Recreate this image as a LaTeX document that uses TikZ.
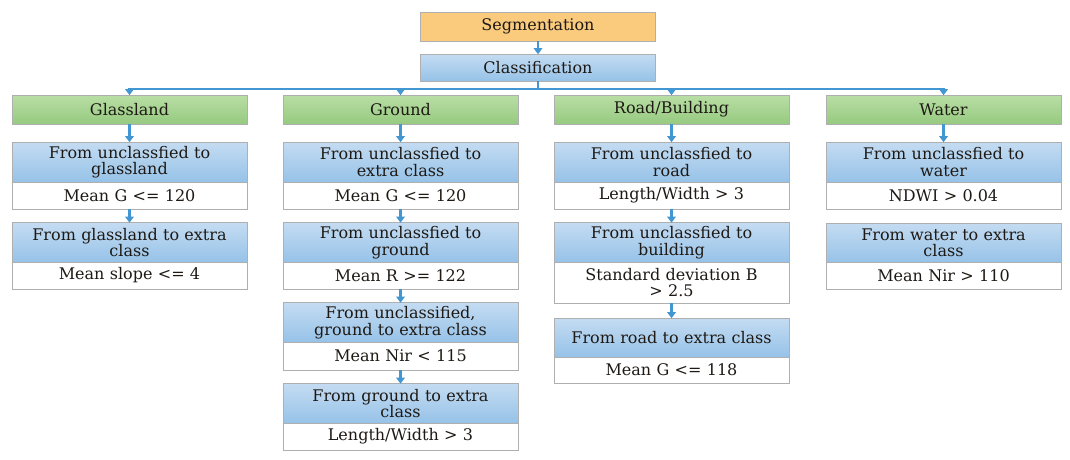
\documentclass[tikz,border=0pt]{standalone}
\usepackage{fontspec}
\setmainfont{DejaVu Serif}
\usetikzlibrary{arrows.meta}
\definecolor{arr}{RGB}{66,150,210}
\definecolor{txt}{RGB}{30,25,20}
\definecolor{bord}{RGB}{175,175,175}
\definecolor{orangec}{RGB}{250,202,125}
\definecolor{green1}{RGB}{185,222,165}
\definecolor{green2}{RGB}{150,202,128}
\definecolor{blue1}{RGB}{196,220,242}
\definecolor{blue2}{RGB}{150,194,232}
\begin{document}
\begin{tikzpicture}[x=1pt,y=-1pt,
  every node/.style={font=\fontsize{16}{16.5}\selectfont, text=txt},
  base/.style={draw=bord, line width=0.6pt, inner sep=0pt, minimum width=235pt, text width=232pt, align=center},
  orangebox/.style={base, fill=orangec, minimum height=29pt},
  greenbox/.style={base, top color=green1, bottom color=green2, minimum height=29pt},
  bluebox/.style={base, top color=blue1, bottom color=blue2, minimum height=40pt},
  whitebox/.style={base, fill=white, minimum height=27pt},
  link/.style={draw=arr, line width=2.4pt},
  arrow/.style={link, -{Triangle[width=8.5pt,length=6pt]}, shorten >=-0.5pt}
]
\useasboundingbox (0,0) rectangle (1070,459);

\node[orangebox] (seg) at (538,26.5) {Segmentation};
\node[bluebox, minimum height=27pt] (cls) at (538,67.5) {Classification};

% Glassland
\node[greenbox] (g0) at (129.5,109.5) {Glassland};
\node[bluebox] (g1) at (129.5,162) {From unclassfied to\\glassland};
\node[whitebox] (g1w) at (129.5,195.5) {Mean G <= 120};
\node[bluebox] (g2) at (129.5,242.5) {From glassland to extra\\class};
\node[whitebox] (g2w) at (129.5,275.5) {Mean slope <= 4};

% Ground
\node[greenbox] (r0) at (400.5,109.5) {Ground};
\node[bluebox] (r1) at (400.5,162) {From unclassfied to\\extra class};
\node[whitebox] (r1w) at (400.5,195.5) {Mean G <= 120};
\node[bluebox] (r2) at (400.5,242.5) {From unclassfied to\\ground};
\node[whitebox] (r2w) at (400.5,275.5) {Mean R >= 122};
\node[bluebox] (r3) at (400.5,322.5) {From unclassified,\\ground to extra class};
\node[whitebox, minimum height=28pt] (r3w) at (400.5,356) {Mean Nir < 115};
\node[bluebox] (r4) at (400.5,403.5) {From ground to extra\\class};
\node[whitebox] (r4w) at (400.5,436.5) {Length/Width > 3};

% Road/Building
\node[greenbox] (b0) at (671.5,109.5) {Road/Building};
\node[bluebox] (b1) at (671.5,162) {From unclassfied to\\road};
\node[whitebox] (b1w) at (671.5,195.5) {Length/Width > 3};
\node[bluebox] (b2) at (671.5,242.5) {From unclassfied to\\building};
\node[whitebox, minimum height=41pt] (b2w) at (671.5,282.5) {Standard deviation B\\> 2.5};
\node[bluebox, minimum height=39pt] (b3) at (671.5,337.5) {From road to extra class};
\node[whitebox, minimum height=26pt] (b3w) at (671.5,370) {Mean G <= 118};

% Water
\node[greenbox] (w0) at (943.5,109.5) {Water};
\node[bluebox] (w1) at (943.5,162) {From unclassfied to\\water};
\node[whitebox] (w1w) at (943.5,195.5) {NDWI > 0.04};
\node[bluebox] (w2) at (943.5,243) {From water to extra\\class};
\node[whitebox] (w2w) at (943.5,276) {Mean Nir > 110};

% connectors
\draw[arrow] (seg) -- (cls);
\coordinate (bus) at (538,89);
\draw[link] (cls.south) -- (bus);
\draw[link, line cap=rect] (g0.north |- bus) -- (w0.north |- bus);
\foreach \n in {g0,r0,b0,w0} \draw[arrow] (\n.north |- bus) -- (\n.north);

\draw[arrow] (g0) -- (g1);
\draw[arrow] (g1w) -- (g2);
\draw[arrow] (r0) -- (r1);
\draw[arrow] (r1w) -- (r2);
\draw[arrow] (r2w) -- (r3);
\draw[arrow] (r3w) -- (r4);
\draw[arrow] (b0) -- (b1);
\draw[arrow] (b1w) -- (b2);
\draw[arrow] (b2w) -- (b3);
\draw[arrow] (w0) -- (w1);
\end{tikzpicture}
\end{document}
